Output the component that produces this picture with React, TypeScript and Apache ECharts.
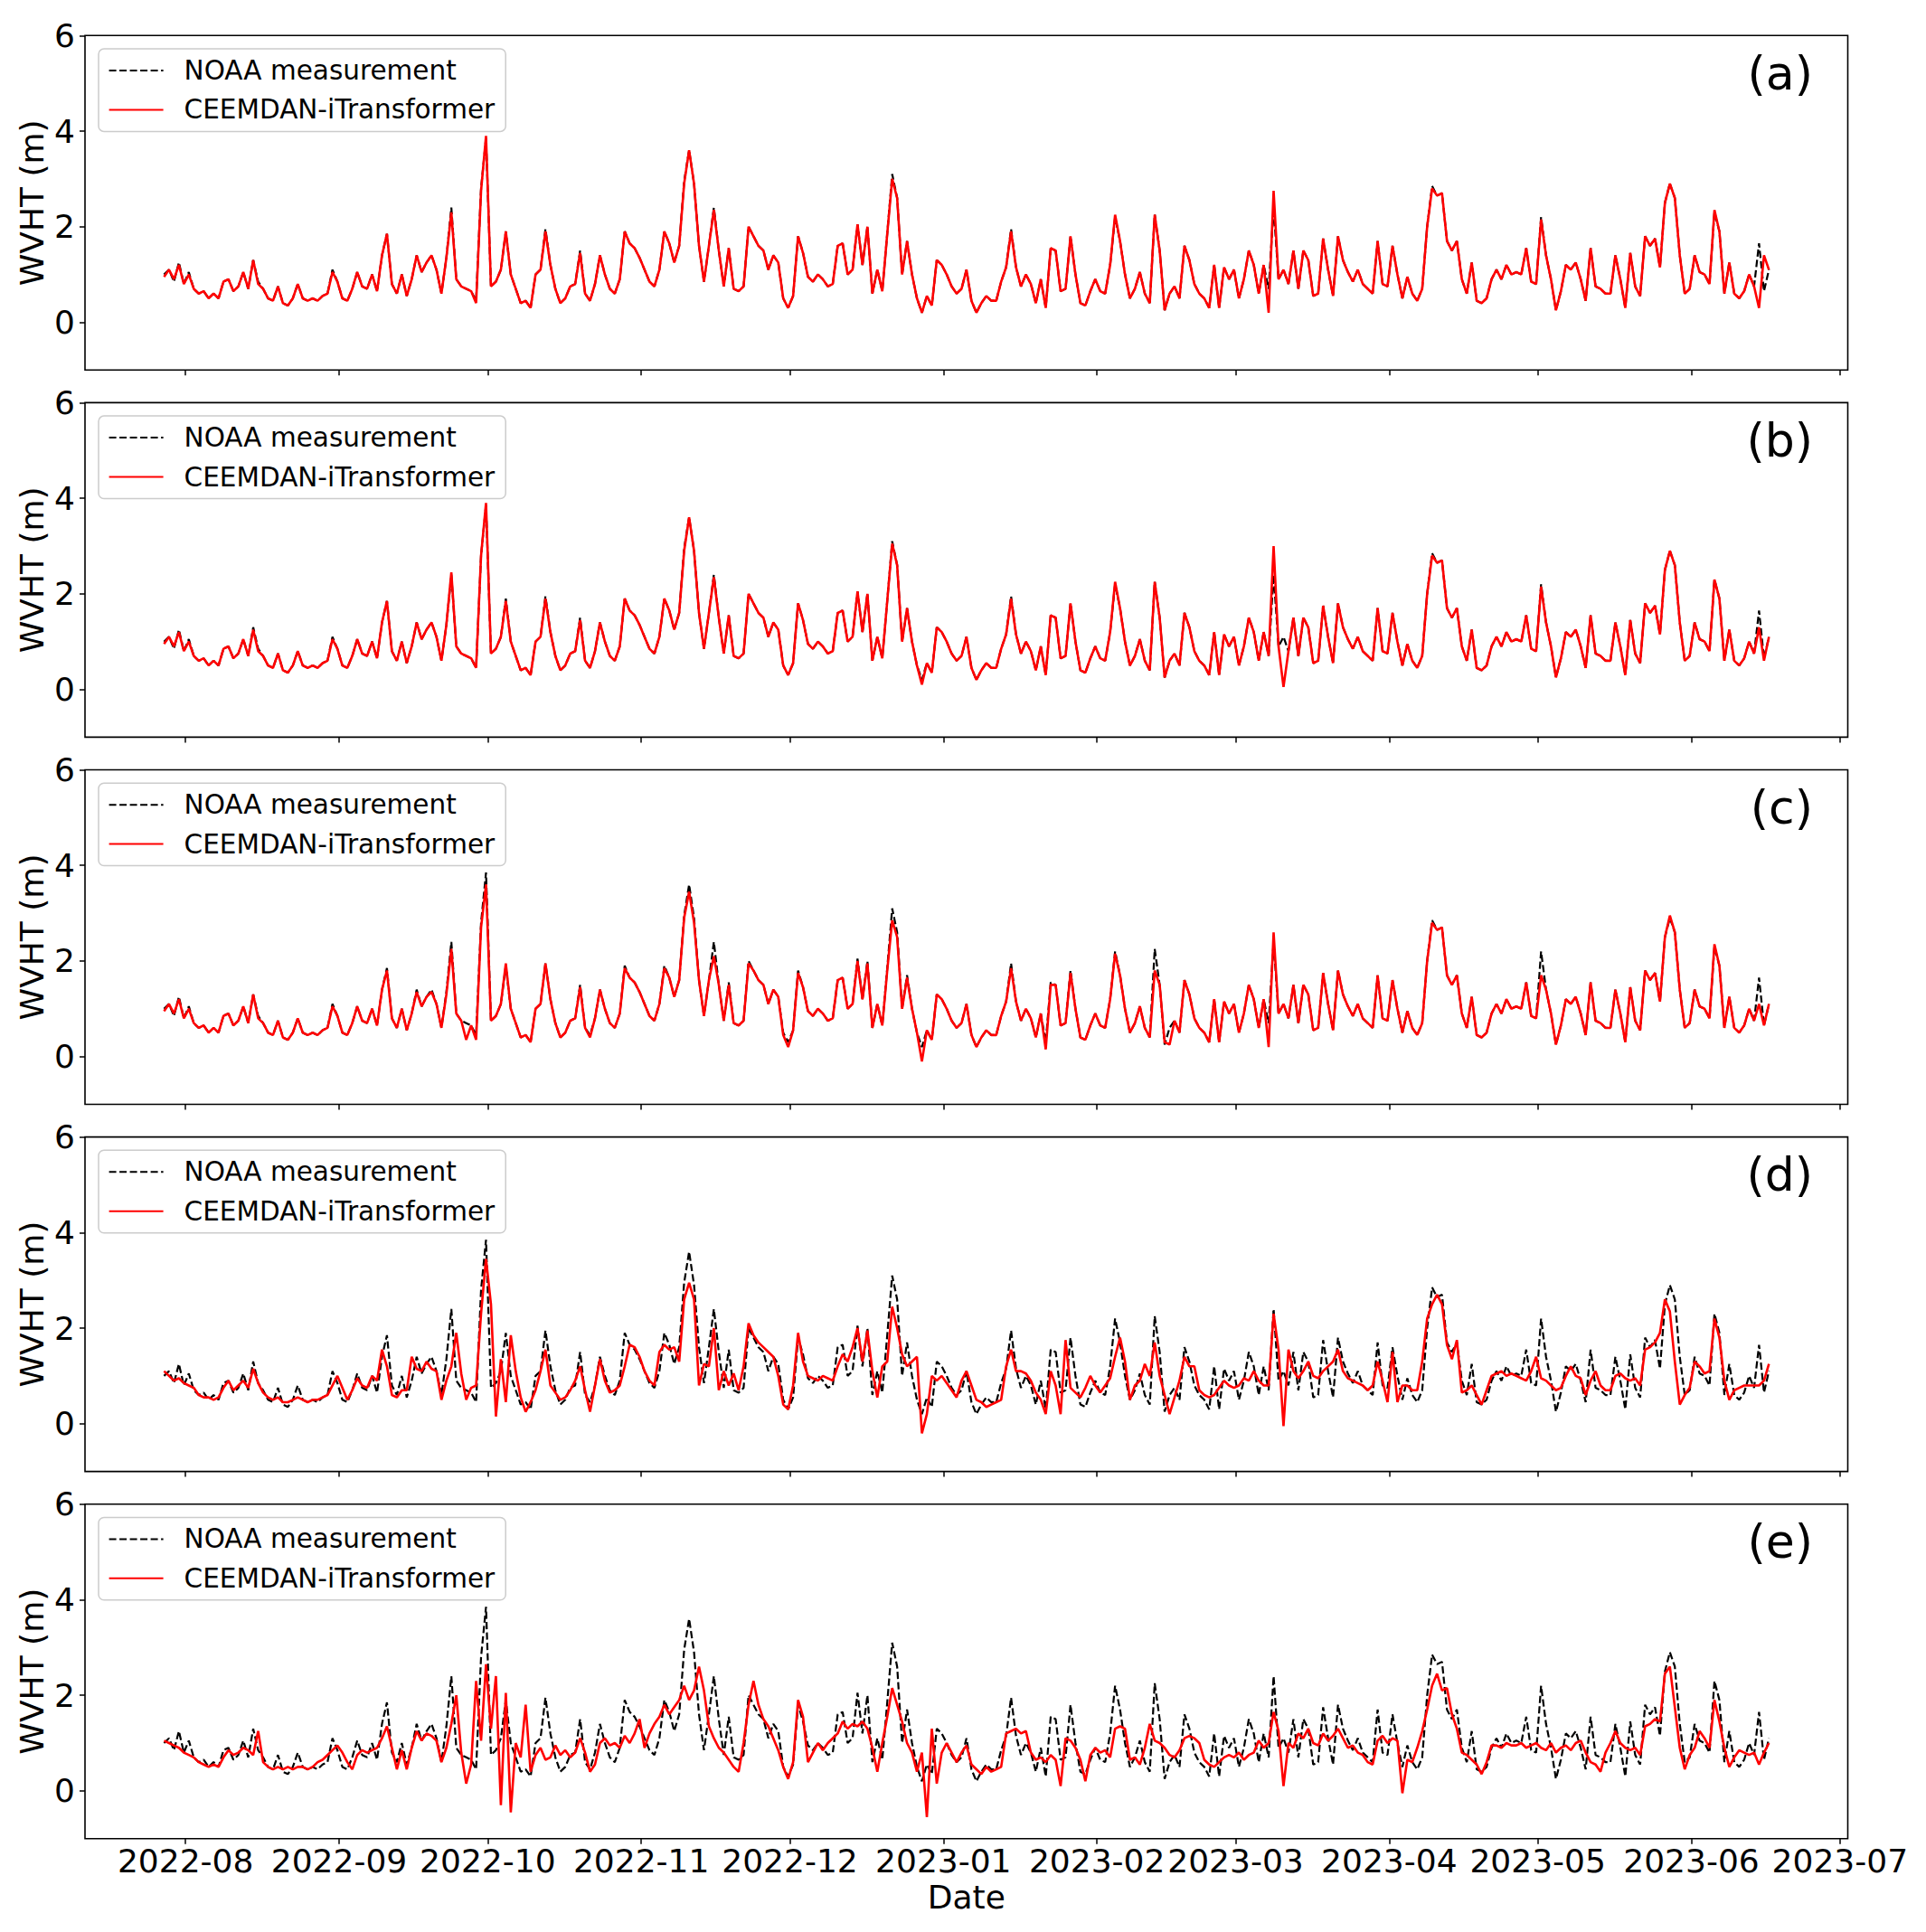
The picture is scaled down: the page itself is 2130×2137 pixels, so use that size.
import React, { useEffect, useRef } from "react";
import * as echarts from "echarts";

// first sample: 2022-07-27 16:00 (local), one sample per day
const START = [2022, 6, 27, 16];
const DAY_MS = 86400000;
const X_MIN = [2022, 6, 11, 17];
const X_MAX = [2023, 6, 2, 14];

const TICK_LABELS = [
  "2022-08", "2022-09", "2022-10", "2022-11", "2022-12", "2023-01",
  "2023-02", "2023-03", "2023-04", "2023-05", "2023-06", "2023-07",
];
const Y_TICKS = [0, 2, 4, 6];
const PANEL_LABELS = ["(a)", "(b)", "(c)", "(d)", "(e)"];
const SERIES_NAMES = ["NOAA measurement", "CEEMDAN-iTransformer"];
const Y_NAME = "WVHT (m)";
const X_NAME = "Date";

const NOAA = [
  1.0, 1.1, 0.85, 1.25, 0.8, 1.05, 0.7, 0.6, 0.65, 0.5,
  0.6, 0.5, 0.85, 0.9, 0.65, 0.75, 1.05, 0.7, 1.3, 0.85,
  0.7, 0.5, 0.45, 0.75, 0.4, 0.35, 0.5, 0.8, 0.5, 0.45,
  0.5, 0.45, 0.55, 0.6, 1.1, 0.85, 0.5, 0.45, 0.7, 1.05,
  0.75, 0.7, 1.0, 0.65, 1.4, 1.85, 0.8, 0.6, 1.0, 0.55,
  0.9, 1.4, 1.05, 1.25, 1.4, 1.1, 0.6, 1.35, 2.4, 0.9,
  0.75, 0.7, 0.65, 0.45, 2.8, 3.85, 0.75, 0.85, 1.1, 1.9,
  1.0, 0.7, 0.4, 0.45, 0.3, 1.0, 1.1, 1.95, 1.2, 0.7,
  0.4, 0.5, 0.75, 0.8, 1.5, 0.6, 0.45, 0.8, 1.4, 1.0,
  0.7, 0.6, 0.9, 1.9, 1.65, 1.55, 1.35, 1.1, 0.85, 0.75,
  1.1, 1.9, 1.65, 1.25, 1.6, 2.95, 3.6, 2.9, 1.6, 0.85,
  1.6, 2.4, 1.5, 0.75, 1.55, 0.7, 0.65, 0.75, 2.0, 1.8,
  1.6, 1.5, 1.1, 1.4, 1.25, 0.5, 0.3, 0.55, 1.8, 1.45,
  0.95, 0.85, 1.0, 0.9, 0.75, 0.8, 1.6, 1.65, 1.0, 1.1,
  2.05, 1.2, 2.0, 0.6, 1.1, 0.65, 1.85, 3.1, 2.6, 1.0,
  1.7, 1.0, 0.5, 0.2, 0.55, 0.35, 1.3, 1.2, 1.0, 0.75,
  0.6, 0.7, 1.1, 0.45, 0.2, 0.4, 0.55, 0.45, 0.45, 0.85,
  1.15, 1.95, 1.15, 0.75, 1.0, 0.8, 0.4, 0.9, 0.3, 1.55,
  1.5, 0.65, 0.7, 1.8, 1.0, 0.4, 0.35, 0.65, 0.9, 0.65,
  0.6, 1.2, 2.2, 1.7, 1.0, 0.5, 0.7, 1.05, 0.6, 0.4,
  2.25, 1.5, 0.25, 0.6, 0.75, 0.5, 1.6, 1.3, 0.8, 0.6,
  0.5, 0.3, 1.2, 0.3, 1.15, 0.9, 1.1, 0.5, 0.9, 1.5,
  1.2, 0.6, 1.2, 0.7, 2.4, 0.9, 1.1, 0.8, 1.5, 0.7,
  1.5, 1.3, 0.55, 0.6, 1.75, 1.1, 0.55, 1.8, 1.3, 1.05,
  0.85, 1.1, 0.8, 0.7, 0.6, 1.7, 0.8, 0.75, 1.6, 1.0,
  0.5, 0.95, 0.6, 0.45, 0.7, 2.0, 2.85, 2.65, 2.7, 1.7,
  1.5, 1.7, 0.9, 0.6, 1.25, 0.45, 0.4, 0.5, 0.9, 1.1,
  0.9, 1.2, 1.0, 1.05, 1.0, 1.55, 0.85, 0.8, 2.2, 1.4,
  0.9, 0.25, 0.65, 1.2, 1.1, 1.25, 0.9, 0.45, 1.55, 0.75,
  0.7, 0.6, 0.6, 1.4, 0.9, 0.3, 1.45, 0.75, 0.55, 1.8,
  1.6, 1.75, 1.15, 2.5, 2.9, 2.6, 1.4, 0.6, 0.7, 1.4,
  1.05, 1.0, 0.8, 2.3, 1.9, 0.6, 1.25, 0.6, 0.5, 0.65,
  1.0, 0.75, 1.65, 0.65, 1.1,
];

const PRED_A = [
  0.95, 1.1, 0.9, 1.2, 0.8, 1.0, 0.7, 0.6, 0.65, 0.5,
  0.6, 0.5, 0.85, 0.9, 0.65, 0.75, 1.05, 0.7, 1.3, 0.8,
  0.7, 0.5, 0.45, 0.75, 0.4, 0.35, 0.5, 0.8, 0.5, 0.45,
  0.5, 0.45, 0.55, 0.6, 1.05, 0.85, 0.5, 0.45, 0.7, 1.05,
  0.75, 0.7, 1.0, 0.65, 1.4, 1.85, 0.8, 0.6, 1.0, 0.55,
  0.9, 1.4, 1.05, 1.25, 1.4, 1.1, 0.6, 1.35, 2.3, 0.9,
  0.75, 0.7, 0.65, 0.4, 2.75, 3.9, 0.75, 0.85, 1.1, 1.9,
  1.0, 0.7, 0.4, 0.45, 0.3, 1.0, 1.1, 1.9, 1.2, 0.7,
  0.4, 0.5, 0.75, 0.8, 1.45, 0.6, 0.45, 0.8, 1.4, 1.0,
  0.7, 0.6, 0.9, 1.9, 1.65, 1.55, 1.35, 1.1, 0.85, 0.75,
  1.1, 1.9, 1.65, 1.25, 1.6, 2.9, 3.6, 2.9, 1.6, 0.85,
  1.6, 2.35, 1.5, 0.75, 1.55, 0.7, 0.65, 0.75, 2.0, 1.8,
  1.6, 1.5, 1.1, 1.4, 1.25, 0.5, 0.3, 0.55, 1.8, 1.45,
  0.95, 0.85, 1.0, 0.9, 0.75, 0.8, 1.6, 1.65, 1.0, 1.1,
  2.05, 1.2, 2.0, 0.6, 1.1, 0.65, 1.85, 3.0, 2.6, 1.0,
  1.7, 1.0, 0.5, 0.2, 0.55, 0.35, 1.3, 1.2, 1.0, 0.75,
  0.6, 0.7, 1.1, 0.45, 0.2, 0.4, 0.55, 0.45, 0.45, 0.85,
  1.15, 1.9, 1.15, 0.75, 1.0, 0.8, 0.4, 0.9, 0.3, 1.55,
  1.5, 0.65, 0.7, 1.8, 1.0, 0.4, 0.35, 0.65, 0.9, 0.65,
  0.6, 1.2, 2.25, 1.7, 1.0, 0.5, 0.7, 1.05, 0.6, 0.4,
  2.25, 1.5, 0.25, 0.6, 0.75, 0.5, 1.6, 1.3, 0.8, 0.6,
  0.5, 0.3, 1.2, 0.3, 1.15, 0.9, 1.1, 0.5, 0.9, 1.5,
  1.2, 0.6, 1.2, 0.2, 2.75, 0.9, 1.1, 0.8, 1.5, 0.7,
  1.5, 1.3, 0.55, 0.6, 1.75, 1.1, 0.55, 1.8, 1.3, 1.05,
  0.85, 1.1, 0.8, 0.7, 0.6, 1.7, 0.8, 0.75, 1.6, 1.0,
  0.5, 0.95, 0.6, 0.45, 0.7, 2.0, 2.8, 2.65, 2.7, 1.7,
  1.5, 1.7, 0.9, 0.6, 1.25, 0.45, 0.4, 0.5, 0.9, 1.1,
  0.9, 1.2, 1.0, 1.05, 1.0, 1.55, 0.85, 0.8, 2.15, 1.4,
  0.9, 0.25, 0.65, 1.2, 1.1, 1.25, 0.9, 0.45, 1.55, 0.75,
  0.7, 0.6, 0.6, 1.4, 0.9, 0.3, 1.45, 0.75, 0.55, 1.8,
  1.6, 1.75, 1.15, 2.5, 2.9, 2.6, 1.4, 0.6, 0.7, 1.4,
  1.05, 1.0, 0.8, 2.35, 1.9, 0.6, 1.25, 0.6, 0.5, 0.65,
  1.0, 0.75, 0.3, 1.4, 1.1,
];

const PRED_B = [
  0.95, 1.1, 0.9, 1.2, 0.8, 1.0, 0.7, 0.6, 0.65, 0.5,
  0.6, 0.5, 0.85, 0.9, 0.65, 0.75, 1.05, 0.7, 1.25, 0.8,
  0.7, 0.5, 0.45, 0.75, 0.4, 0.35, 0.5, 0.8, 0.5, 0.45,
  0.5, 0.45, 0.55, 0.6, 1.05, 0.85, 0.5, 0.45, 0.7, 1.05,
  0.75, 0.7, 1.0, 0.65, 1.4, 1.85, 0.8, 0.6, 1.0, 0.55,
  0.9, 1.4, 1.05, 1.25, 1.4, 1.1, 0.6, 1.35, 2.45, 0.9,
  0.75, 0.7, 0.65, 0.45, 2.8, 3.9, 0.75, 0.85, 1.1, 1.85,
  1.0, 0.7, 0.4, 0.45, 0.3, 1.0, 1.1, 1.9, 1.2, 0.7,
  0.4, 0.5, 0.75, 0.8, 1.45, 0.6, 0.45, 0.8, 1.4, 1.0,
  0.7, 0.6, 0.9, 1.9, 1.65, 1.55, 1.35, 1.1, 0.85, 0.75,
  1.1, 1.9, 1.65, 1.25, 1.6, 2.9, 3.6, 2.9, 1.6, 0.85,
  1.6, 2.35, 1.5, 0.75, 1.55, 0.7, 0.65, 0.75, 2.0, 1.8,
  1.6, 1.5, 1.1, 1.4, 1.25, 0.5, 0.3, 0.55, 1.8, 1.45,
  0.95, 0.85, 1.0, 0.9, 0.75, 0.8, 1.6, 1.65, 1.0, 1.1,
  2.05, 1.2, 2.0, 0.6, 1.1, 0.65, 1.85, 3.05, 2.6, 1.0,
  1.7, 1.0, 0.5, 0.1, 0.55, 0.35, 1.3, 1.2, 1.0, 0.75,
  0.6, 0.7, 1.1, 0.45, 0.2, 0.4, 0.55, 0.45, 0.45, 0.85,
  1.15, 1.9, 1.15, 0.75, 1.0, 0.8, 0.4, 0.9, 0.3, 1.55,
  1.5, 0.65, 0.7, 1.8, 1.0, 0.4, 0.35, 0.65, 0.9, 0.65,
  0.6, 1.2, 2.25, 1.7, 1.0, 0.5, 0.7, 1.05, 0.6, 0.4,
  2.25, 1.5, 0.25, 0.6, 0.75, 0.5, 1.6, 1.3, 0.8, 0.6,
  0.5, 0.3, 1.2, 0.3, 1.15, 0.9, 1.1, 0.5, 0.9, 1.5,
  1.2, 0.6, 1.2, 0.7, 3.0, 0.9, 0.05, 0.8, 1.5, 0.7,
  1.5, 1.3, 0.55, 0.6, 1.75, 1.1, 0.55, 1.8, 1.3, 1.05,
  0.85, 1.1, 0.8, 0.7, 0.6, 1.7, 0.8, 0.75, 1.6, 1.0,
  0.5, 0.95, 0.6, 0.45, 0.7, 2.0, 2.8, 2.65, 2.7, 1.7,
  1.5, 1.7, 0.9, 0.6, 1.25, 0.45, 0.4, 0.5, 0.9, 1.1,
  0.9, 1.2, 1.0, 1.05, 1.0, 1.55, 0.85, 0.8, 2.15, 1.4,
  0.9, 0.25, 0.65, 1.2, 1.1, 1.25, 0.9, 0.45, 1.55, 0.75,
  0.7, 0.6, 0.6, 1.4, 0.9, 0.3, 1.45, 0.75, 0.55, 1.8,
  1.6, 1.75, 1.15, 2.5, 2.9, 2.6, 1.4, 0.6, 0.7, 1.4,
  1.05, 1.0, 0.8, 2.3, 1.9, 0.6, 1.25, 0.6, 0.5, 0.65,
  1.0, 0.75, 1.3, 0.6, 1.1,
];

const PRED_C = [
  0.95, 1.1, 0.9, 1.2, 0.8, 1.0, 0.7, 0.6, 0.65, 0.5,
  0.6, 0.5, 0.85, 0.9, 0.65, 0.75, 1.05, 0.7, 1.3, 0.8,
  0.7, 0.5, 0.45, 0.75, 0.4, 0.35, 0.5, 0.8, 0.5, 0.45,
  0.5, 0.45, 0.55, 0.6, 1.05, 0.85, 0.5, 0.45, 0.7, 1.05,
  0.75, 0.7, 1.0, 0.65, 1.4, 1.8, 0.8, 0.6, 1.0, 0.55,
  0.9, 1.35, 1.05, 1.25, 1.35, 1.1, 0.6, 1.3, 2.25, 0.9,
  0.75, 0.35, 0.65, 0.35, 2.7, 3.6, 0.75, 0.85, 1.1, 1.95,
  1.0, 0.7, 0.4, 0.45, 0.3, 1.0, 1.1, 1.95, 1.2, 0.7,
  0.4, 0.5, 0.75, 0.8, 1.45, 0.6, 0.4, 0.8, 1.4, 1.0,
  0.7, 0.6, 0.9, 1.85, 1.65, 1.55, 1.35, 1.1, 0.85, 0.75,
  1.1, 1.85, 1.65, 1.25, 1.6, 2.9, 3.45, 2.8, 1.6, 0.85,
  1.6, 2.1, 1.5, 0.75, 1.5, 0.7, 0.65, 0.75, 1.95, 1.8,
  1.6, 1.5, 1.1, 1.4, 1.25, 0.45, 0.2, 0.55, 1.75, 1.45,
  0.95, 0.85, 1.0, 0.9, 0.75, 0.8, 1.6, 1.65, 1.0, 1.1,
  2.0, 1.2, 1.95, 0.6, 1.1, 0.65, 1.8, 2.85, 2.5, 1.0,
  1.65, 1.0, 0.5, -0.1, 0.55, 0.35, 1.3, 1.2, 1.0, 0.75,
  0.6, 0.7, 1.1, 0.45, 0.2, 0.4, 0.55, 0.45, 0.45, 0.85,
  1.15, 1.85, 1.15, 0.75, 1.0, 0.8, 0.4, 0.9, 0.15, 1.5,
  1.5, 0.65, 0.7, 1.75, 1.0, 0.4, 0.35, 0.65, 0.9, 0.65,
  0.6, 1.2, 2.15, 1.7, 1.0, 0.5, 0.7, 1.05, 0.6, 0.4,
  1.8, 1.5, 0.3, 0.25, 0.75, 0.5, 1.6, 1.3, 0.8, 0.6,
  0.5, 0.3, 1.2, 0.3, 1.15, 0.9, 1.1, 0.5, 0.9, 1.5,
  1.2, 0.6, 1.2, 0.2, 2.6, 0.9, 1.1, 0.8, 1.5, 0.7,
  1.5, 1.3, 0.55, 0.6, 1.75, 1.1, 0.55, 1.8, 1.3, 1.05,
  0.85, 1.1, 0.8, 0.7, 0.6, 1.7, 0.8, 0.75, 1.6, 1.0,
  0.5, 0.95, 0.6, 0.45, 0.7, 2.0, 2.8, 2.65, 2.7, 1.7,
  1.5, 1.7, 0.9, 0.6, 1.25, 0.45, 0.4, 0.5, 0.9, 1.1,
  0.9, 1.2, 1.0, 1.05, 1.0, 1.55, 0.85, 0.8, 1.7, 1.4,
  0.9, 0.25, 0.65, 1.2, 1.1, 1.25, 0.9, 0.45, 1.55, 0.75,
  0.7, 0.6, 0.6, 1.4, 0.9, 0.3, 1.45, 0.75, 0.55, 1.8,
  1.6, 1.75, 1.15, 2.5, 2.95, 2.6, 1.4, 0.6, 0.7, 1.4,
  1.05, 1.0, 0.8, 2.35, 1.9, 0.6, 1.25, 0.6, 0.5, 0.65,
  1.0, 0.75, 1.1, 0.65, 1.1,
];

const PRED_D = [
  1.1, 1.0, 0.9, 0.95, 0.85, 0.8, 0.75, 0.6, 0.55, 0.55,
  0.5, 0.55, 0.75, 0.9, 0.7, 0.8, 0.9, 0.75, 1.15, 0.85,
  0.65, 0.55, 0.5, 0.55, 0.45, 0.45, 0.5, 0.55, 0.5, 0.45,
  0.5, 0.5, 0.55, 0.6, 0.8, 1.0, 0.75, 0.5, 0.7, 0.95,
  0.8, 0.75, 1.0, 0.9, 1.55, 1.2, 0.6, 0.55, 0.7, 0.7,
  1.4, 1.15, 1.1, 1.3, 1.15, 1.1, 0.5, 0.9, 1.2, 1.9,
  1.05, 0.5, 0.75, 0.8, 2.3, 3.45, 2.5, 0.15, 1.35, 0.45,
  1.85, 1.1, 0.55, 0.25, 0.45, 0.7, 1.1, 1.55, 0.8, 0.65,
  0.5, 0.55, 0.7, 0.9, 1.2, 0.7, 0.25, 0.8, 1.35, 0.9,
  0.65, 0.7, 0.8, 1.2, 1.65, 1.6, 1.4, 1.1, 0.9, 0.8,
  1.5, 1.65, 1.55, 1.6, 1.3, 2.6, 2.95, 2.6, 0.8, 1.25,
  1.2, 2.0, 0.7, 1.1, 0.8, 1.05, 0.7, 1.2, 2.1, 1.85,
  1.7, 1.6, 1.5, 1.4, 1.0, 0.4, 0.3, 0.8, 1.9, 1.3,
  1.0, 0.95, 0.9, 1.0, 0.95, 0.9, 1.2, 1.45, 1.3, 1.6,
  2.0, 1.3, 1.95, 1.1, 0.55, 1.2, 1.3, 2.45, 2.0, 1.45,
  1.2, 1.3, 1.4, -0.2, 0.2, 1.0, 0.9, 1.0, 0.85, 0.7,
  0.55, 0.9, 1.1, 0.8, 0.5, 0.45, 0.35, 0.4, 0.45, 0.5,
  1.2, 1.55, 1.1, 1.1, 1.05, 0.9, 0.65, 0.5, 0.2, 1.1,
  0.8, 0.2, 1.75, 0.75, 0.65, 0.55, 0.75, 1.0, 0.8, 0.65,
  0.8, 0.95, 1.4, 1.8, 1.3, 0.5, 0.8, 0.9, 1.25, 1.0,
  1.7, 1.0, 0.6, 0.2, 0.55, 0.9, 1.4, 1.2, 1.2, 0.7,
  0.6, 0.55, 0.6, 0.75, 0.9, 0.8, 0.75, 0.8, 0.95, 0.9,
  1.1, 0.9, 0.8, 0.8, 2.3, 1.55, -0.05, 1.55, 1.1, 0.95,
  1.1, 1.3, 1.0, 0.95, 1.1, 1.2, 1.3, 1.55, 1.1, 0.95,
  0.9, 0.85, 0.8, 0.7, 0.8, 1.3, 0.9, 0.45, 1.5, 0.45,
  0.8, 0.8, 0.7, 0.7, 1.3, 2.2, 2.5, 2.7, 2.5, 1.65,
  1.35, 1.75, 0.65, 0.7, 0.8, 0.6, 0.4, 0.7, 1.0, 1.05,
  1.1, 1.0, 1.05, 1.0, 0.95, 0.9, 1.1, 1.4, 0.95, 0.9,
  0.8, 0.7, 0.75, 1.0, 1.2, 1.0, 0.95, 0.6, 0.9, 1.1,
  0.8, 0.7, 0.7, 1.0, 1.05, 0.95, 0.9, 0.95, 0.8, 1.55,
  1.6, 1.7, 1.9, 2.6, 2.35, 1.3, 0.4, 0.6, 0.75, 1.3,
  1.2, 1.05, 1.1, 2.2, 1.8, 0.9, 0.5, 0.7, 0.75, 0.8,
  0.8, 0.8, 0.8, 0.9, 1.25,
];

const PRED_E = [
  1.05, 1.0, 0.95, 0.9, 0.8, 0.75, 0.7, 0.6, 0.55, 0.5,
  0.55, 0.5, 0.7, 0.85, 0.75, 0.8, 0.9, 0.85, 0.75, 1.25,
  0.6, 0.5, 0.45, 0.5, 0.45, 0.5, 0.45, 0.5, 0.5, 0.45,
  0.5, 0.6, 0.65, 0.75, 0.85, 0.95, 0.8, 0.6, 0.45, 0.75,
  0.85, 0.8, 0.85, 0.9, 1.1, 1.35, 0.9, 0.45, 0.85, 0.45,
  0.9, 1.25, 1.05, 1.2, 1.15, 1.05, 0.6, 0.9, 1.4, 2.0,
  0.8, 0.15, 0.55, 2.3, 1.05, 2.65, 1.3, 2.4, -0.3, 2.05,
  -0.45, 1.0, 0.7, 1.8, 0.4, 0.75, 0.9, 0.65, 0.7, 0.95,
  0.75, 0.85, 0.7, 0.8, 1.1, 0.8, 0.4, 0.55, 1.0, 1.1,
  0.95, 1.0, 0.9, 1.15, 1.0, 1.2, 1.5, 0.9, 1.2, 1.4,
  1.55, 1.8, 1.6, 1.75, 1.9, 2.2, 1.9, 2.1, 2.6, 2.1,
  1.35, 1.1, 0.9, 0.8, 0.65, 0.5, 0.4, 1.0, 1.8, 2.3,
  1.8, 1.5, 1.35, 1.1, 0.85, 0.5, 0.25, 0.6, 1.9, 1.55,
  0.6, 0.8, 1.0, 0.85, 1.0, 1.1, 1.2, 1.45, 1.3, 1.4,
  1.35, 1.45, 1.3, 0.9, 0.4, 1.0, 1.55, 2.15, 1.8, 1.45,
  1.0, 0.8, 0.4, 0.8, -0.55, 1.3, 0.15, 0.8, 1.0, 0.8,
  0.6, 0.8, 0.95, 0.55, 0.45, 0.35, 0.5, 0.4, 0.45, 0.5,
  1.2, 1.25, 1.3, 1.2, 1.25, 0.8, 0.65, 0.7, 0.6, 0.75,
  0.65, 0.1, 1.1, 1.05, 0.9, 0.65, 0.2, 0.75, 0.9, 0.8,
  0.85, 0.7, 1.3, 1.35, 1.3, 0.65, 0.7, 0.55, 0.9, 1.4,
  1.05, 1.0, 0.9, 0.75, 0.7, 0.85, 1.1, 1.15, 1.1, 1.0,
  0.65, 0.55, 0.5, 0.6, 0.7, 0.75, 0.7, 0.8, 0.65, 0.75,
  0.8, 1.05, 0.9, 1.0, 1.65, 1.25, 0.1, 1.0, 0.9, 1.2,
  1.1, 1.3, 1.0, 0.95, 1.2, 1.05, 1.15, 1.3, 1.1, 0.9,
  0.95, 0.8, 0.75, 0.6, 0.55, 1.05, 1.15, 1.0, 1.1, 1.05,
  -0.05, 0.65, 0.6, 0.9, 1.25, 1.7, 2.2, 2.45, 2.1, 2.15,
  1.6, 1.3, 0.8, 0.75, 0.65, 0.55, 0.35, 0.6, 0.95, 0.95,
  0.9, 1.0, 0.95, 0.95, 1.0, 0.9, 0.95, 1.0, 0.9, 0.85,
  1.0, 0.8, 0.9, 0.95, 0.85, 1.0, 1.05, 0.8, 0.6, 0.55,
  0.4, 0.8, 1.0, 1.25, 1.0, 0.9, 0.85, 0.9, 0.75, 1.35,
  1.4, 1.5, 1.45, 2.45, 2.6, 1.75, 0.9, 0.45, 0.75, 0.9,
  1.25, 1.1, 0.9, 1.9, 1.45, 0.9, 0.5, 0.7, 0.85, 0.8,
  0.75, 0.8, 0.55, 0.8, 1.0,
];

const PREDICTIONS = [PRED_A, PRED_B, PRED_C, PRED_D, PRED_E];

// layout (pixels)
const W = 2130;
const H = 2137;
const GRID_LEFT = 94;
const GRID_WIDTH = 1949.5;
const GRID_TOP0 = 39.3;
const GRID_STEP = 406.1;
const GRID_HEIGHT = 370;
const FONT = "'DejaVu Sans', Arial, sans-serif";

function toTs(p: number[]) {
  return new Date(p[0], p[1], p[2], p[3]).getTime();
}

function App() {
  const ref = useRef<HTMLDivElement>(null);

  useEffect(() => {
    if (!ref.current) return;
    const chart = echarts.init(ref.current, undefined, { renderer: "svg" });
    const t0 = toTs(START);
    const pair = (arr: number[]) => arr.map((v, i) => [t0 + i * DAY_MS, v]);
    const noaaData = pair(NOAA);
    const monthTicks = TICK_LABELS.map((s) => {
      const [y, m] = s.split("-").map(Number);
      return new Date(y, m - 1, 1).getTime();
    });
    const fmt = (v: number) => {
      const d = new Date(v);
      return `${d.getFullYear()}-${String(d.getMonth() + 1).padStart(2, "0")}`;
    };

    const grids: any[] = [];
    const xAxes: any[] = [];
    const yAxes: any[] = [];
    const series: any[] = [];
    const legends: any[] = [];
    const graphics: any[] = [];

    PANEL_LABELS.forEach((lab, k) => {
      const top = GRID_TOP0 + GRID_STEP * k;
      grids.push({
        left: GRID_LEFT,
        top,
        width: GRID_WIDTH,
        height: GRID_HEIGHT,
        show: true,
        borderColor: "#000",
        borderWidth: 1.6,
        backgroundColor: "transparent",
      });
      xAxes.push({
        type: "value",
        gridIndex: k,
        min: toTs(X_MIN),
        max: toTs(X_MAX),
        scale: true,
        axisLine: { show: false, onZero: false },
        splitLine: { show: false },
        axisTick: {
          show: true,
          customValues: monthTicks,
          length: 6,
          inside: false,
          lineStyle: { color: "#000", width: 1.5 },
        },
        axisLabel: {
          show: k === PANEL_LABELS.length - 1,
          customValues: monthTicks,
          formatter: fmt,
          fontSize: 36,
          fontFamily: FONT,
          color: "#000",
          margin: 7,
          hideOverlap: false,
        },
      });
      yAxes.push({
        type: "value",
        gridIndex: k,
        min: -1,
        max: 6,
        axisLine: { show: false, onZero: false },
        splitLine: { show: false },
        axisTick: {
          show: true,
          customValues: Y_TICKS,
          length: 6,
          lineStyle: { color: "#000", width: 1.5 },
        },
        axisLabel: {
          customValues: Y_TICKS,
          fontSize: 36,
          fontFamily: FONT,
          color: "#000",
          margin: 11,
        },
      });
      series.push({
        type: "line",
        name: SERIES_NAMES[0],
        xAxisIndex: k,
        yAxisIndex: k,
        data: noaaData,
        showSymbol: false,
        symbol: "none",
        lineStyle: { color: "#000000", width: 2.2, type: [8, 3.5] },
        itemStyle: { color: "#000000" },
        z: 2,
      });
      series.push({
        type: "line",
        name: SERIES_NAMES[1],
        xAxisIndex: k,
        yAxisIndex: k,
        data: pair(PREDICTIONS[k]),
        showSymbol: false,
        symbol: "none",
        lineStyle: { color: "#ff0000", width: 2.6 },
        itemStyle: { color: "#ff0000" },
        z: 3,
      });
      legends.push({
        orient: "vertical",
        left: 109,
        top: top + 14.7,
        data: SERIES_NAMES,
        itemWidth: 60,
        itemHeight: 14,
        itemGap: 13.4,
        padding: [9, 12, 9, 10.6],
        backgroundColor: "rgba(255,255,255,0.8)",
        borderColor: "#cccccc",
        borderWidth: 1.5,
        borderRadius: 6,
        selectedMode: false,
        itemStyle: { opacity: 0 },
        textStyle: {
          fontSize: 29.5,
          fontFamily: FONT,
          color: "#000",
          lineHeight: 30,
          padding: [0, 0, 0, 18],
        },
      });
      graphics.push({
        type: "text",
        x: 2005,
        y: top + 41.5,
        style: {
          text: lab,
          fontSize: 52,
          fontFamily: FONT,
          fill: "#000",
          align: "right",
          verticalAlign: "middle",
        },
      });
      graphics.push({
        type: "text",
        x: 35,
        y: top + GRID_HEIGHT / 2,
        rotation: Math.PI / 2,
        style: {
          text: Y_NAME,
          fontSize: 36,
          fontFamily: FONT,
          fill: "#000",
          align: "center",
          verticalAlign: "middle",
        },
      });
    });

    graphics.push({
      type: "text",
      x: GRID_LEFT + GRID_WIDTH / 2,
      y: 2098,
      style: {
        text: X_NAME,
        fontSize: 36,
        fontFamily: FONT,
        fill: "#000",
        align: "center",
        verticalAlign: "middle",
      },
    });

    chart.setOption({
      animation: false,
      backgroundColor: "#ffffff",
      grid: grids,
      xAxis: xAxes,
      yAxis: yAxes,
      legend: legends,
      series,
      graphic: graphics,
    });
    return () => chart.dispose();
  }, []);

  return (
    <div
      ref={ref}
      style={{ position: "absolute", left: 0, top: 0, width: W, height: H, background: "#fff" }}
    />
  );
}

export default App;
